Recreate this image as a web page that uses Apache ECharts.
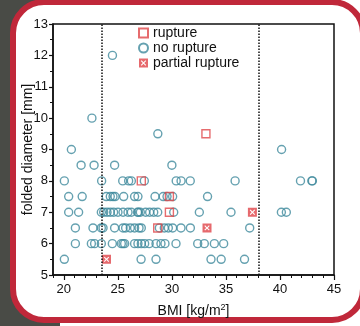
<!DOCTYPE html>
<html lang="en">
<head>
    <meta charset="UTF-8">
    <title>BMI vs folded diameter</title>
    <style>
        body {margin: 0; width: 360px; height: 326px; overflow: hidden; background: #fff; position: relative;}
        #dark {position: absolute; left: 0; top: 0; width: 60px; height: 326px; background: #494b46;}
        #frame {position: absolute; left: 10px; top: -1px; width: 356px; height: 324px; box-sizing: border-box;
                border: 6px solid #c0283a; border-radius: 34px; background: #fff;}
        #chart {position: absolute; left: 0; top: 0; width: 360px; height: 326px;}
    </style>
</head>
<body>
<div id="dark"></div>
<div id="frame"></div>
<div id="chart"></div>
</body>
<script src="https://cdn.jsdelivr.net/npm/echarts@6.0.0/dist/echarts.min.js"></script>
<script>
    // [BMI, folded diameter]
    var noRupture = [
        [24.5, 12], [22.6, 10], [28.7, 9.5], [20.7, 9], [40.15, 9],
        [21.6, 8.5], [22.8, 8.5], [24.7, 8.5], [30.0, 8.5],
        [20.05, 8], [23.5, 8], [25.45, 8], [26.0, 8], [26.25, 8], [27.45, 8], [30.4, 8], [30.85, 8],
        [31.7, 8], [35.85, 8], [41.9, 8], [42.95, 8], [43.0, 8],
        [20.45, 7.5], [21.7, 7.5], [23.93, 7.5], [24.3, 7.5], [24.55, 7.5], [24.74, 7.5], [25.54, 7.5],
        [26.55, 7.5], [26.86, 7.5], [28.44, 7.5], [29.2, 7.5], [29.55, 7.5], [30.07, 7.5], [33.3, 7.5],
        [20.45, 7], [21.37, 7], [23.47, 7], [23.69, 7], [24.0, 7], [24.3, 7], [24.61, 7], [25.01, 7],
        [25.48, 7], [25.94, 7], [26.25, 7], [26.82, 7], [26.9, 7], [27.08, 7], [27.57, 7], [27.94, 7],
        [28.32, 7], [28.69, 7], [30.17, 7], [32.54, 7], [35.47, 7], [40.13, 7], [40.59, 7],
        [21.07, 6.5], [22.7, 6.5], [23.47, 6.5], [23.63, 6.5], [24.7, 6.5], [25.48, 6.5], [25.72, 6.5],
        [26.15, 6.5], [26.55, 6.5], [26.96, 6.5], [27.17, 6.5], [28.84, 6.5], [29.3, 6.5], [29.67, 6.5],
        [30.07, 6.5], [30.84, 6.5], [31.71, 6.5], [37.2, 6.5],
        [21.07, 6], [22.55, 6], [22.85, 6], [23.47, 6], [24.49, 6], [25.32, 6], [25.48, 6], [25.63, 6],
        [26.55, 6], [26.86, 6], [27.17, 6], [27.48, 6], [27.9, 6], [28.53, 6], [28.99, 6], [29.36, 6],
        [30.38, 6], [32.39, 6], [33.0, 6], [33.93, 6], [34.79, 6],
        [20.05, 5.5], [27.15, 5.5], [28.53, 5.5], [33.62, 5.5], [34.56, 5.5], [36.72, 5.5]
    ];
    var rupture = [[27.17, 8], [33.15, 9.5], [29.77, 7.5], [29.77, 7], [28.69, 6.5]];
    var partialRupture = [[23.95, 5.5], [33.25, 6.5], [37.45, 7]];
    var bmiLimits = [23.5, 38];
    var xMajorTicks = [20, 25, 30, 35, 40, 45];

    var font = 'Liberation Sans, Arial, sans-serif';
    // filled square with a cut-out cross
    var crossBox = 'path://M0 0L10 0L10 10L0 10Z' +
        'M2.88 7.97L5 5.85L7.12 7.97L7.97 7.12L5.85 5L7.97 2.88L7.12 2.03L5 4.15L2.88 2.03L2.03 2.88L4.15 5L2.03 7.12Z';

    var chart = echarts.init(document.getElementById('chart'));
    var option = {
        animation: false,
        textStyle: {fontFamily: font, color: '#111'},
        grid: {left: 53, top: 24, right: 26, bottom: 51, show: true, borderColor: '#111', borderWidth: 1.5},
        legend: {
            orient: 'vertical', left: 133, top: 21, itemWidth: 9, itemHeight: 9, itemGap: 1,
            data: ['rupture', 'no rupture', 'partial rupture'],
            textStyle: {fontFamily: font, fontSize: 14, color: '#111'}
        },
        xAxis: [{
            type: 'value', min: 19, max: 45, interval: 1,
            axisLine: {lineStyle: {color: '#111', width: 1.5}},
            axisTick: {length: 3, lineStyle: {color: '#111', width: 1}},
            axisLabel: {show: false},
            splitLine: {show: false}
        }, {
            type: 'value', min: 19, max: 45, position: 'bottom',
            axisLine: {show: false},
            axisTick: {customValues: xMajorTicks, length: 5, lineStyle: {color: '#111', width: 1.2}},
            axisLabel: {customValues: xMajorTicks, fontSize: 13, margin: 8, color: '#111', fontFamily: font},
            splitLine: {show: false},
            name: '{a|BMI [kg/m}{sup|2}{a|]}', nameLocation: 'middle', nameGap: 28, nameMoveOverlap: false,
            nameTextStyle: {
                rich: {
                    a: {fontSize: 14, lineHeight: 17, fontFamily: font, color: '#111'},
                    sup: {fontSize: 9, lineHeight: 10, verticalAlign: 'top', fontFamily: font, color: '#111'}
                }
            }
        }],
        yAxis: {
            type: 'value', min: 5, max: 13, interval: 1,
            axisLine: {show: true, lineStyle: {color: '#111', width: 1.5}},
            axisTick: {length: 4, lineStyle: {color: '#111', width: 1.2}},
            minorTick: {show: true, splitNumber: 2, length: 3, lineStyle: {color: '#111', width: 1}},
            axisLabel: {fontSize: 13, margin: 5, color: '#111'},
            splitLine: {show: false},
            name: 'folded diameter [mm]', nameLocation: 'middle', nameGap: 18, nameMoveOverlap: false,
            nameTextStyle: {fontSize: 14, color: '#111'}
        },
        series: [{
            name: 'no rupture', type: 'scatter', xAxisIndex: 0, data: noRupture,
            symbol: 'circle', symbolSize: 8,
            itemStyle: {color: 'rgba(255,255,255,0)', borderColor: '#3f8a9c', borderWidth: 1.4},
            emphasis: {disabled: true},
            markLine: {
                silent: true, symbol: ['none', 'none'], label: {show: false},
                lineStyle: {type: [1.5, 1.5], color: '#111', width: 1.5},
                emphasis: {disabled: true},
                data: bmiLimits.map(function (v) { return {xAxis: v}; })
            }
        }, {
            name: 'rupture', type: 'scatter', xAxisIndex: 0, data: rupture,
            symbol: 'rect', symbolSize: 8,
            itemStyle: {color: 'rgba(255,255,255,0)', borderColor: '#e0474a', borderWidth: 1.4},
            emphasis: {disabled: true}
        }, {
            name: 'partial rupture', type: 'scatter', xAxisIndex: 0, data: partialRupture,
            symbol: crossBox, symbolSize: 9,
            itemStyle: {color: '#e04448'},
            emphasis: {disabled: true}
        }]
    };
    chart.setOption(option);
</script>
</html>
